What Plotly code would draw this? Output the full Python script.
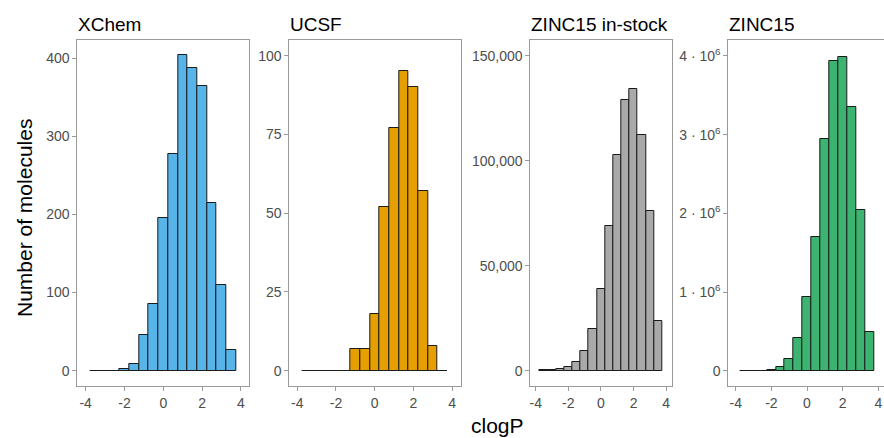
import plotly.graph_objects as go

# Bin centres (clogP), bin width 0.5
bin_centers = [-3.5, -3.0, -2.5, -2.0, -1.5, -1.0, -0.5, 0.0, 0.5, 1.0, 1.5, 2.0, 2.5, 3.0, 3.5]
bin_width = 0.5

panel_titles = ["XChem", "UCSF", "ZINC15 in-stock", "ZINC15"]

xchem_counts = [0, 0, 0, 2, 8, 46, 86, 196, 277, 404, 388, 365, 215, 110, 26]
ucsf_counts = [0, 0, 0, 0, 0, 7, 7, 18, 52, 77, 95, 90, 57, 8, 0]
zinc_instock_counts = [200, 400, 700, 1750, 4000, 9200, 19700, 39000, 69000,
                       102800, 128700, 134100, 112400, 76000, 23600]
zinc15_counts = [500, 1000, 3000, 10000, 42000, 144000, 420000, 936000, 1695000,
                 2945000, 3930000, 3990000, 3350000, 2040000, 490000]

series = [xchem_counts, ucsf_counts, zinc_instock_counts, zinc15_counts]
fill_colors = ["#56B4E9", "#E69F00", "#A9A9A9", "#3CB371"]

x_tick_vals = [-4, -2, 0, 2, 4]
x_tick_text = ["-4", "-2", "0", "2", "4"]

y_tick_vals = [
    [0, 100, 200, 300, 400],
    [0, 25, 50, 75, 100],
    [0, 50000, 100000, 150000],
    [0, 1000000, 2000000, 3000000, 4000000],
]
y_tick_text = [
    ["0", "100", "200", "300", "400"],
    ["0", "25", "50", "75", "100"],
    ["0", "50,000", "100,000", "150,000"],
    ["0", "1 · 10<sup>6</sup>", "2 · 10<sup>6</sup>", "3 · 10<sup>6</sup>", "4 · 10<sup>6</sup>"],
]

W, H = 884, 438
# panel pixel extents
panel_px = [(77.3, 249.3), (289.3, 461.0), (530.3, 672.3), (728.3, 884.0)]
panel_top, panel_bottom = 40.0, 386.0
x_ranges = [[-4.43, 4.43], [-4.41, 4.46], [-4.33, 4.37], [-4.415, 4.32]]
y_ranges = [[-19.6, 423.4], [-4.86, 105.0], [-7290, 157500], [-194000, 4203000]]

fig = go.Figure()
FONT = "Liberation Sans, Arial, sans-serif"
border = "#9a9a9a"

for i in range(4):
    xa = "x" if i == 0 else f"x{i+1}"
    ya = "y" if i == 0 else f"y{i+1}"
    fig.add_trace(go.Bar(
        x=bin_centers, y=series[i], width=bin_width,
        marker=dict(color=fill_colors[i], line=dict(color="#1a1a1a", width=1)),
        xaxis=xa, yaxis=ya, showlegend=False,
    ))
    x0, x1 = panel_px[i]
    xkey = "xaxis" if i == 0 else f"xaxis{i+1}"
    ykey = "yaxis" if i == 0 else f"yaxis{i+1}"
    fig.layout[xkey] = dict(
        domain=[x0 / W, x1 / W], range=x_ranges[i], anchor=ya,
        tickvals=x_tick_vals, ticktext=x_tick_text,
        ticks="outside", ticklen=4, tickcolor=border, tickwidth=1,
        showline=True, linecolor=border, linewidth=1, mirror=True,
        showgrid=False, zeroline=False,
        tickfont=dict(size=14, color="#4d4d4d", family=FONT),
    )
    fig.layout[ykey] = dict(
        domain=[(H - panel_bottom) / H, (H - panel_top) / H], range=y_ranges[i], anchor=xa,
        tickvals=y_tick_vals[i], ticktext=y_tick_text[i],
        ticks="outside", ticklen=4, tickcolor=border, tickwidth=1,
        showline=True, linecolor=border, linewidth=1, mirror=(i < 3),
        showgrid=False, zeroline=False,
        tickfont=dict(size=14, color="#4d4d4d", family=FONT),
    )
    fig.add_annotation(
        text=panel_titles[i], xref="paper", yref="paper",
        x=(x0 - 1) / W, y=(H - 37) / H, xanchor="left", yanchor="bottom",
        showarrow=False, font=dict(size=19, color="black", family=FONT),
    )

fig.add_annotation(
    text="Number of molecules", xref="paper", yref="paper",
    x=24 / W, y=(H - 218) / H, xanchor="center", yanchor="middle", textangle=-90,
    showarrow=False, font=dict(size=21, color="black", family=FONT),
)
fig.add_annotation(
    text="clogP", xref="paper", yref="paper",
    x=497 / W, y=(H - 425) / H, xanchor="center", yanchor="middle",
    showarrow=False, font=dict(size=21, color="black", family=FONT),
)

fig.update_layout(
    width=W, height=H, margin=dict(l=0, r=0, t=0, b=0),
    paper_bgcolor="white", plot_bgcolor="white", bargap=0,
)

fig.write_html("out.html")
